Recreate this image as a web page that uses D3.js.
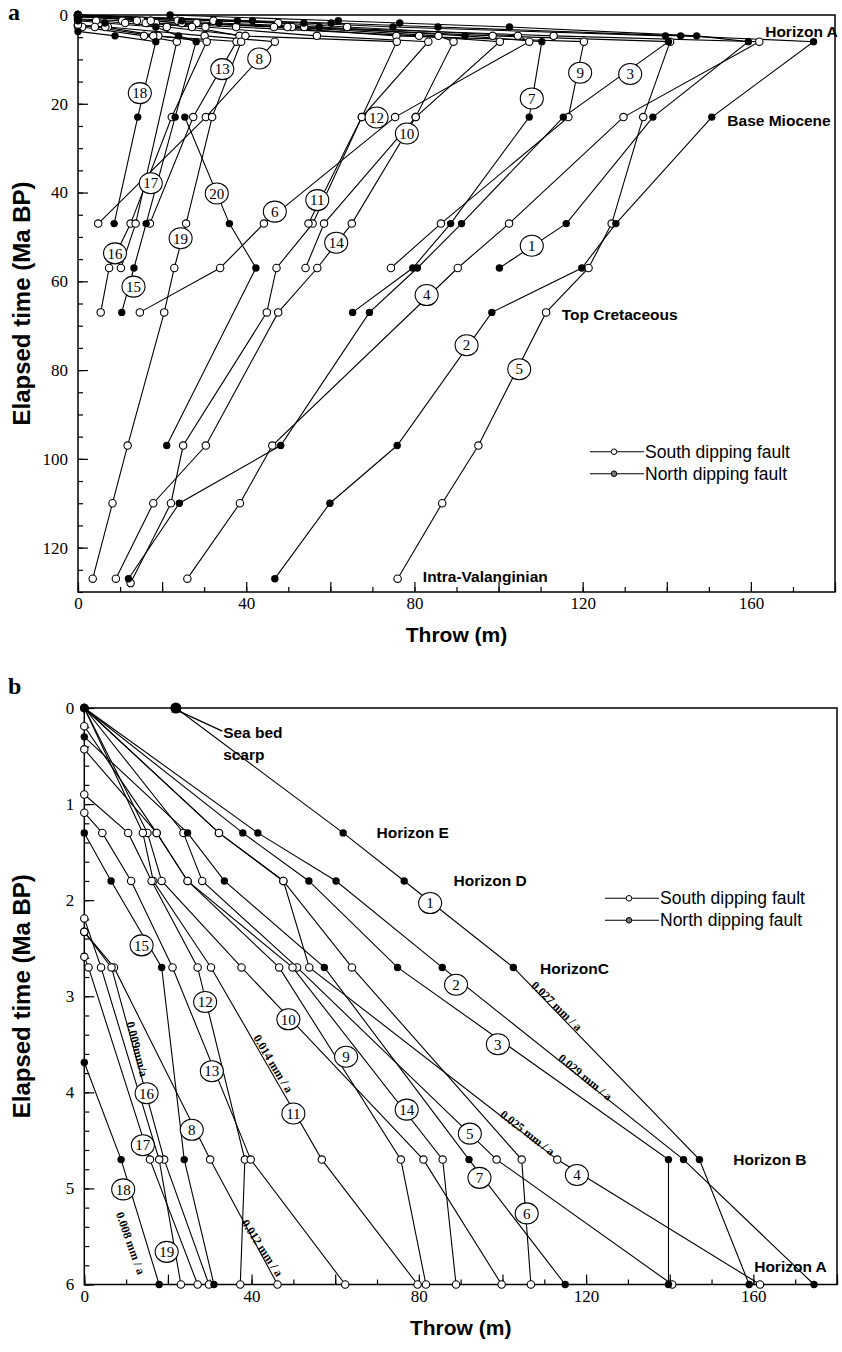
<!DOCTYPE html>
<html><head><meta charset="utf-8">
<script src="https://cdn.jsdelivr.net/npm/d3@7"></script>
<style>body{margin:0;background:#fff}</style>
</head><body>
<svg id="c" width="842" height="1352"></svg>
<script>
// ---------------- DATA ----------------
// fault numbers and dip direction (true = north dipping, drawn with filled dots)
const faultIds = d3.range(1, 21);
const northDipping = [1, 2, 3, 7, 15, 18, 20];

// Panel b: [elapsed time (Ma), throw (m)] per fault 1..19 (last 6 Ma)
const bFaults = [
  [[0,21.9],[1.3,61.9],[1.8,76.5],[2.7,102.6],[4.7,147.1],[6,159.0]],
  [[0,0],[1.3,41.5],[1.8,60.2],[2.7,85.6],[4.7,143.3],[6,174.5]],
  [[0,0],[1.3,37.9],[1.8,53.7],[2.7,74.9],[4.7,139.7],[6,139.7]],
  [[0,0],[1.3,32.2],[1.8,47.6],[2.7,53.8],[4.7,113.1],[6,161.6]],
  [[0,0],[1.3,23.7],[1.8,28.2],[2.7,50.9],[4.7,98.6],[6,140.6]],
  [[0,0],[1.3,32.2],[1.8,47.6],[2.7,64.0],[4.7,104.6],[6,106.8]],
  [[0.3,0],[1.3,24.7],[1.8,33.5],[2.7,57.4],[4.7,92.0],[6,115.0]],
  [[2.33,0],[2.7,7.1],[4.7,30.1],[6,46.2]],
  [[0.43,0],[1.3,17.3],[1.8,24.7],[2.7,46.6],[4.7,75.7],[6,81.7]],
  [[0,0],[1.3,15.1],[1.8,18.5],[2.7,37.6],[4.7,81.1],[6,99.8]],
  [[0,0],[1.3,14.0],[1.8,16.5],[2.7,30.3],[4.7,56.8],[6,79.7]],
  [[0.9,0],[1.3,10.5],[1.8,16.1],[2.7,27.1],[4.7,38.4],[6,37.3]],
  [[1.09,0],[1.3,4.3],[1.8,11.2],[2.7,21.1],[4.7,39.8],[6,62.4]],
  [[0.19,0],[1.3,17.3],[1.8,24.7],[2.7,49.8],[4.7,85.7],[6,88.9]],
  [[1.3,0],[1.8,6.4],[2.7,18.5],[4.7,23.9],[6,31.0]],
  [[2.33,0],[2.7,6.5],[4.7,19.1],[6,29.8]],
  [[2.59,0],[2.7,1.0],[4.7,15.7],[6,27.1]],
  [[3.69,0],[4.7,8.8],[6,17.9]],
  [[2.19,0],[2.7,4.0],[4.7,17.9],[6,23.1]]
];

// Panel a: Horizon A (6 Ma) and older horizons, per fault 1..20
const aFaults = [
  [[6,159.4],[23,136.7],[47,116.1],[57,100.2]],
  [[6,174.9],[23,150.7],[47,127.9],[57,119.8],[67,98.4],[97,75.9],[110,59.9],[127,46.8]],
  [[6,140.4],[23,115.4],[47,91.2],[57,80.7],[67,69.3],[97,48.2],[110,24.1],[127,12.0]],
  [[6,162.0],[23,129.7],[47,102.5],[57,90.3],[97,46.2],[110,38.5],[127,26.0]],
  [[6,140.8],[23,134.4],[47,126.9],[57,121.4],[67,111.3],[97,95.2],[110,86.6],[127,76.0]],
  [[6,107.3],[23,75.4],[47,44.2],[57,33.8],[67,14.7]],
  [[6,110.3],[23,107.3],[47,88.6],[57,79.6],[67,65.3]],
  [[6,46.8],[23,30.4],[47,4.8]],
  [[6,120.3],[23,116.6],[47,86.3],[57,74.4]],
  [[6,100.3],[23,80.3],[47,58.5],[57,54.1]],
  [[6,83.3],[23,67.5],[47,55.8],[57,47.2],[67,44.9],[97,25.0],[110,22.1],[128,12.5]],
  [[6,75.8],[23,67.5],[47,54.8]],
  [[6,37.7],[23,27.4],[47,17.1]],
  [[6,89.3],[23,80.3],[47,65.1],[57,56.9],[67,47.6],[97,30.4],[110,17.9],[127,9.0]],
  [[6,28.1],[23,23.1],[47,16.2],[57,13.3],[67,10.4]],
  [[6,30.6],[23,22.3],[47,12.5],[57,7.4],[67,5.4]],
  [[6,23.5],[47,13.7],[57,10.2]],
  [[6,18.5],[23,14.2],[47,8.6]],
  [[6,38.8],[23,31.9],[47,25.7],[57,22.9],[67,20.5],[97,11.8],[110,8.2],[127,3.5]],
  [[23,25.4],[47,36.0],[57,42.3],[97,21.1]]
];

// fault number tags: [time, throw]
const aTags = [[52.0,107.9],[74.4,92.4],[13.3,131.3],[63.1,82.9],[79.8,104.9],[44.3,46.8],[18.8,107.9],
  [9.8,43.1],[13.0,119.4],[26.7,78.2],[41.7,56.9],[23.1,71.0],[12.2,34.3],[51.3,61.4],[61.2,13.2],
  [53.7,8.8],[37.9,17.3],[17.6,14.7],[50.3,24.4],[40.2,33.0]];
const bTags = [[2.03,82.7],[2.88,88.9],[3.50,98.9],[4.86,117.8],[4.43,92.2],[5.26,105.8],[4.89,94.5],
  [4.39,25.7],[3.63,62.6],[3.24,48.8],[4.22,50.0],[3.06,28.9],[3.78,30.5],[4.18,77.1],[2.47,13.7],
  [4.01,14.9],[4.55,14.0],[5.01,9.3],[5.66,19.7]];

// horizon names: [text, time, throw]
const aHorizons = [["Horizon A",3.8,163.4],["Base Miocene",23.7,154.4],["Top Cretaceous",67.6,115.0],["Intra-Valanginian",126.6,82.0]];
const bHorizons = [["Horizon E",1.3,69.9],["Horizon D",1.8,88.3],["HorizonC",2.71,109.0],["Horizon B",4.7,155.2],["Horizon A",5.81,160.2]];

// slip-rate notes: [text, time, throw, angle]
const rates = [["0.027 mm / a",3.10,113.0,44],["0.029 mm / a",3.84,119.8,39.5],["0.025 mm / a",4.42,106.0,38],
  ["0.014 mm / a",3.70,45.2,59],["0.009mm/a",3.55,12.7,75.6],["0.008 mm / a",5.57,11.1,70.3],["0.012 mm / a",5.62,42.6,56.6]];

const xTicksMajor = d3.range(0, 181, 20);
const xTicksMinor = d3.range(0, 181, 10);
const xTickLabels = [0, 40, 80, 120, 160];
const legendItems = ["South dipping fault", "North dipping fault"];

// ---------------- DRAW ----------------
const svg = d3.select("#c");
const defs = svg.append("defs");
defs.append("marker").attr("id","arr").attr("viewBox","0 0 10 10").attr("refX",1).attr("refY",5)
  .attr("markerWidth",9).attr("markerHeight",9).attr("orient","auto")
  .append("path").attr("d","M10,1 L0,5 L10,9 L6,5 Z").attr("fill","#000");

const serif = "'Liberation Serif','Times New Roman',serif";
const sans = "'Liberation Sans',Arial,sans-serif";

function drawPanel(o) {
  const x = d3.scaleLinear().domain([0, 180]).range([o.left, o.right]);
  const y = d3.scaleLinear().domain(o.yDom).range([o.top, o.bottom]);
  const g = svg.append("g");

  const ax1 = g.append("g").attr("transform", `translate(0,${o.bottom})`)
    .call(d3.axisBottom(x).tickValues(xTicksMinor).tickSize(-5).tickFormat(""));
  const ax2 = g.append("g").attr("transform", `translate(0,${o.bottom})`)
    .call(d3.axisBottom(x).tickValues(xTicksMajor).tickSize(-10).tickPadding(5)
      .tickFormat(d => xTickLabels.includes(d) ? d : ""));
  const ay1 = g.append("g").attr("transform", `translate(${o.left},0)`)
    .call(d3.axisLeft(y).tickValues(o.yMinor).tickSize(-5).tickFormat(""));
  const ay2 = g.append("g").attr("transform", `translate(${o.left},0)`)
    .call(d3.axisLeft(y).tickValues(o.yMajor).tickSize(-10).tickPadding(10).tickFormat(d3.format("d")));
  [ax1, ax2, ay1, ay2].forEach(a => {
    a.select(".domain").remove();
    a.selectAll("line").attr("stroke", "#000").attr("stroke-width", 1.2);
    a.selectAll("text").attr("font-family", serif).attr("font-size", 17).attr("fill", "#000");
  });
  g.append("rect").attr("x", o.left).attr("y", o.top).attr("width", o.right - o.left)
    .attr("height", o.bottom - o.top).attr("fill", "none").attr("stroke", "#000").attr("stroke-width", 1.5);

  const line = d3.line().x(d => x(d[1])).y(d => y(d[0]));
  const faults = o.faults.map((pts, i) => ({ id: i + 1, pts, north: northDipping.includes(i + 1) }));
  g.append("g").selectAll("path").data(faults).join("path")
    .attr("d", d => line(d.pts)).attr("fill", "none").attr("stroke", "#000").attr("stroke-width", 1.1);

  const open = faults.filter(f => !f.north), solid = faults.filter(f => f.north);
  g.append("g").selectAll("g").data(open).join("g").selectAll("circle").data(d => d.pts).join("circle")
    .attr("cx", d => x(d[1])).attr("cy", d => y(d[0])).attr("r", 3.7)
    .attr("fill", "#fff").attr("stroke", "#000").attr("stroke-width", 1.1);
  g.append("g").selectAll("g").data(solid).join("g").selectAll("circle").data(d => d.pts).join("circle")
    .attr("cx", d => x(d[1])).attr("cy", d => y(d[0])).attr("r", 3.7).attr("fill", "#000");

  const tg = g.append("g").selectAll("g").data(o.tags).join("g")
    .attr("transform", d => `translate(${x(d[1])},${y(d[0])})`);
  tg.append("ellipse").attr("rx", 11.5).attr("ry", 10.5).attr("fill", "#fff").attr("stroke", "#000").attr("stroke-width", 1.1);
  tg.append("text").text((d, i) => faultIds[i]).attr("text-anchor", "middle").attr("dy", "0.35em")
    .attr("font-family", serif).attr("font-size", 15);

  g.append("g").selectAll("text").data(o.horizons).join("text")
    .attr("x", d => x(d[2])).attr("y", d => y(d[1])).attr("dy", "0.35em").text(d => d[0])
    .attr("font-family", sans).attr("font-weight", "bold").attr("font-size", 15.5);

  const lg = g.append("g").selectAll("g").data(legendItems).join("g")
    .attr("transform", (d, i) => `translate(${o.legend[0]},${o.legend[1] + i * 22})`);
  lg.append("line").attr("x1", 0).attr("x2", 54).attr("stroke", "#000").attr("stroke-width", 1.1);
  lg.append("circle").attr("cx", 24).attr("r", 2.8).attr("stroke", "#000").attr("stroke-width", 1)
    .attr("fill", (d, i) => i ? "#777" : "#fff");
  lg.append("text").attr("x", 55).attr("dy", "0.35em").text(d => d)
    .attr("font-family", sans).attr("font-size", 17.5);

  g.append("text").attr("x", (o.left + o.right) / 2).attr("y", o.bottom + 50).attr("text-anchor", "middle")
    .text("Throw (m)").attr("font-family", sans).attr("font-weight", "bold").attr("font-size", 21);
  g.append("text").attr("transform", `translate(30,${(o.top + o.bottom) / 2}) rotate(-90)`).attr("text-anchor", "middle")
    .text("Elapsed time (Ma BP)").attr("font-family", sans).attr("font-weight", "bold").attr("font-size", 24);
  g.append("text").attr("x", 8).attr("y", o.letterY).text(o.letter)
    .attr("font-family", serif).attr("font-weight", "bold").attr("font-size", 24);
  return { x, y, g };
}

const aAll = aFaults.map((pts, i) => (bFaults[i] ? bFaults[i].filter(p => p[0] < 6) : []).concat(pts));
drawPanel({
  left: 78, right: 835, top: 15, bottom: 592, yDom: [0, 130],
  yMajor: d3.range(0, 121, 20), yMinor: d3.range(0, 131, 5),
  faults: aAll, tags: aTags, horizons: aHorizons, legend: [590, 451.7], letter: "a", letterY: 20
});

const pb = drawPanel({
  left: 84.3, right: 837, top: 708, bottom: 1284.5, yDom: [0, 6],
  yMajor: d3.range(0, 7, 1), yMinor: d3.range(0, 6.01, 0.2),
  faults: bFaults, tags: bTags, horizons: bHorizons, legend: [605, 898.3], letter: "b", letterY: 694
});

pb.g.append("circle").attr("cx", pb.x(bFaults[0][0][1])).attr("cy", pb.y(0)).attr("r", 5.5).attr("fill", "#000");
pb.g.append("line").attr("x1", pb.x(33.0)).attr("y1", pb.y(0.24)).attr("x2", pb.x(23.3)).attr("y2", pb.y(0.045))
  .attr("stroke", "#000").attr("stroke-width", 1.3).attr("marker-end", "url(#arr)");
pb.g.append("text").attr("x", pb.x(33.2)).attr("y", pb.y(0.26)).attr("dy", "0.35em").text("Sea bed")
  .attr("font-family", sans).attr("font-weight", "bold").attr("font-size", 15.5);
pb.g.append("text").attr("x", pb.x(33.2)).attr("y", pb.y(0.48)).attr("dy", "0.35em").text("scarp")
  .attr("font-family", sans).attr("font-weight", "bold").attr("font-size", 15.5);

pb.g.append("g").selectAll("text").data(rates).join("text")
  .attr("transform", d => `translate(${pb.x(d[2])},${pb.y(d[1])}) rotate(${d[3]})`)
  .attr("text-anchor", "middle").attr("dy", "0.35em").text(d => d[0])
  .attr("font-family", serif).attr("font-weight", "bold").attr("font-size", 12);
</script>
</body></html>
